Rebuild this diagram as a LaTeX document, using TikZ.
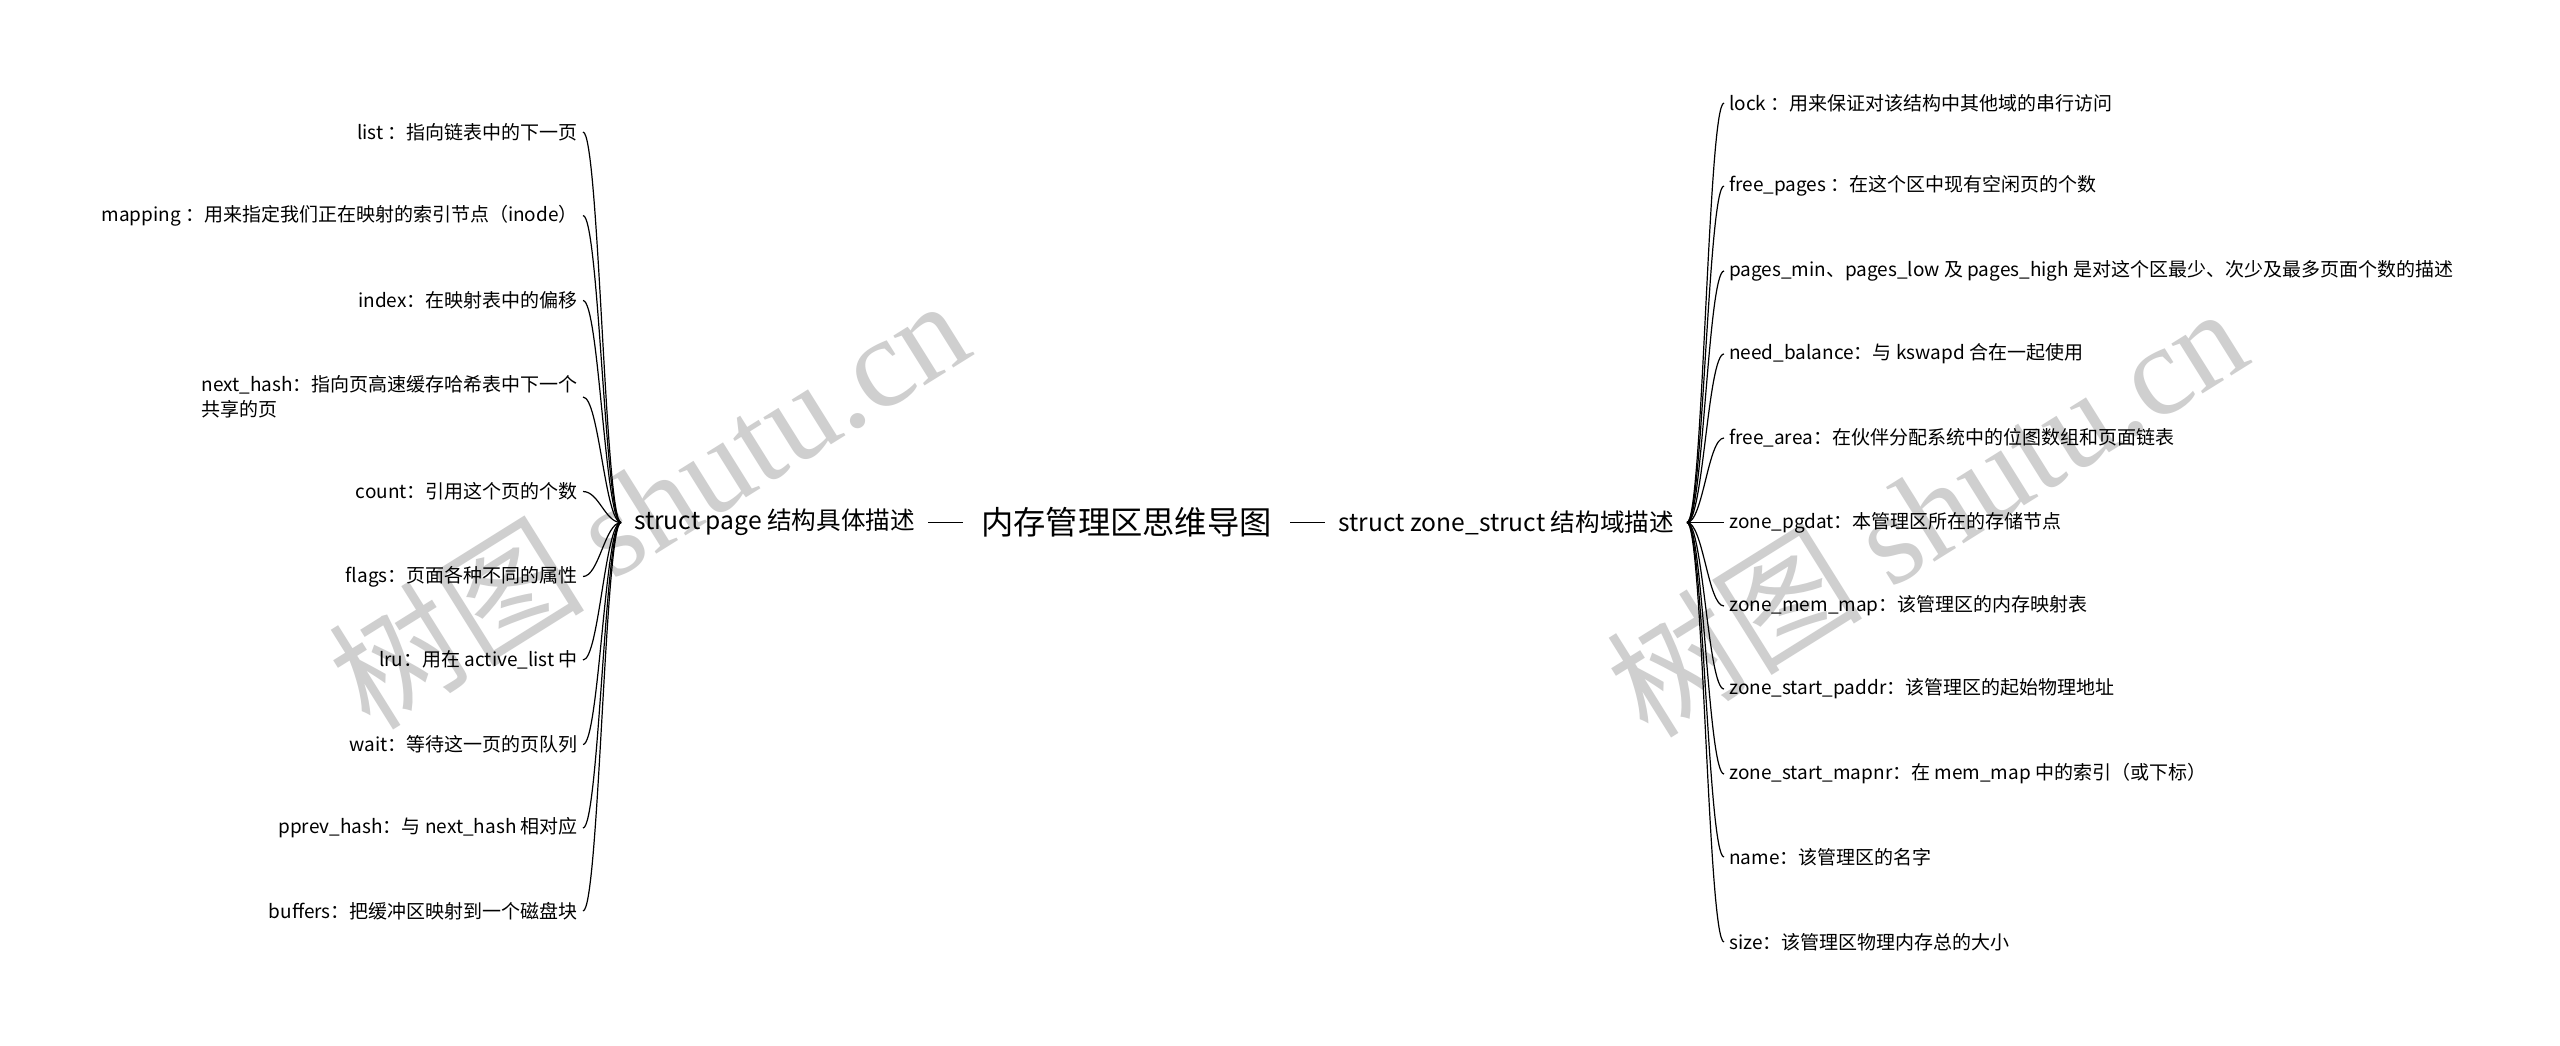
\documentclass[tikz,border=0pt]{standalone}
\usepackage{fontspec}
\setmainfont{Noto Sans CJK SC}
\newfontfamily\wmfont{Liberation Serif}

\tikzset{
	leaf/.style={inner xsep=5pt,inner ysep=2pt,font=\fontsize{19}{24.5}\selectfont},
	branch/.style={inner xsep=13pt,font=\fontsize{24.6}{28}\selectfont},
	rootnode/.style={inner xsep=18pt,font=\fontsize{32.3}{38}\selectfont},
	twig/.style={line width=1.2pt,to path={.. controls +(16,0) and +(-16,0) .. (\tikztotarget)}},
	stem/.style={line width=1.2pt},
	watermark/.style={text=black!19,font=\fontsize{128}{132}\selectfont,inner sep=0pt}
}

\begin{document}
\begin{tikzpicture}[x=1pt,y=-1pt]
	\useasboundingbox[fill=white] (0,0) rectangle (2560,1045);
	% watermark
	\node[watermark,rotate=32] (wmleft) at (648,502) {树图 {\wmfont shutu.cn}};
	\node[watermark,rotate=32] (wmright) at (1926,510) {树图 {\wmfont shutu.cn}};
	
	\node[rootnode] (root) at (1126.5,522.5) {内存管理区思维导图};
	\node[branch,anchor=west] (page) at (621,522.5) {struct page 结构具体描述};
	\node[branch,anchor=east] (zone) at (1687,522.5) {struct zone\_struct 结构域描述};
	
	% struct page
	\node[leaf,anchor=east] (list) at (583,132) {list ：指向链表中的下一页};
	\node[leaf,anchor=east] (mapping) at (583,215.5) {mapping ：用来指定我们正在映射的索引节点（inode）};
	\node[leaf,anchor=east] (index) at (583,300.5) {index：在映射表中的偏移};
	\node[leaf,anchor=east,align=left] (nexthash) at (583,397) {next\_hash：指向页高速缓存哈希表中下一个\\共享的页};
	\node[leaf,anchor=east] (count) at (583,491.5) {count：引用这个页的个数};
	\node[leaf,anchor=east] (flags) at (583,576.5) {flags：页面各种不同的属性};
	\node[leaf,anchor=east] (lru) at (583,660) {lru：用在 active\_list 中};
	\node[leaf,anchor=east] (wait) at (583,744.5) {wait：等待这一页的页队列};
	\node[leaf,anchor=east] (pprev) at (583,828) {pprev\_hash：与 next\_hash 相对应};
	\node[leaf,anchor=east] (buffers) at (583,911) {buffers：把缓冲区映射到一个磁盘块};
	
	% struct zone_struct
	\node[leaf,anchor=west] (lock) at (1724,103) {lock ：用来保证对该结构中其他域的串行访问};
	\node[leaf,anchor=west] (freepages) at (1724,186) {free\_pages ：在这个区中现有空闲页的个数};
	\node[leaf,anchor=west] (pagesmin) at (1724,271) {pages\_min、pages\_low 及 pages\_high 是对这个区最少、次少及最多页面个数的描述};
	\node[leaf,anchor=west] (needbal) at (1724,354) {need\_balance：与 kswapd 合在一起使用};
	\node[leaf,anchor=west] (freearea) at (1724,438) {free\_area：在伙伴分配系统中的位图数组和页面链表};
	\node[leaf,anchor=west] (pgdat) at (1724,522.5) {zone\_pgdat：本管理区所在的存储节点};
	\node[leaf,anchor=west] (memmap) at (1724,606) {zone\_mem\_map：该管理区的内存映射表};
	\node[leaf,anchor=west] (paddr) at (1724,689) {zone\_start\_paddr：该管理区的起始物理地址};
	\node[leaf,anchor=west] (mapnr) at (1724,774) {zone\_start\_mapnr：在 mem\_map 中的索引（或下标）};
	\node[leaf,anchor=west] (name) at (1724,857) {name：该管理区的名字};
	\node[leaf,anchor=west] (size) at (1724,942) {size：该管理区物理内存总的大小};
	
	\draw[stem] (page.east) -- (root.west)
	(root.east) -- (zone.west);
	
	\path[twig] (list.east) edge (page.west)
	(mapping.east) edge (page.west)
	(index.east) edge (page.west)
	(nexthash.east) edge (page.west)
	(count.east) edge (page.west)
	(flags.east) edge (page.west)
	(lru.east) edge (page.west)
	(wait.east) edge (page.west)
	(pprev.east) edge (page.west)
	(buffers.east) edge (page.west);
	
	\path[twig] (zone.east) edge (lock.west)
	(zone.east) edge (freepages.west)
	(zone.east) edge (pagesmin.west)
	(zone.east) edge (needbal.west)
	(zone.east) edge (freearea.west)
	(zone.east) edge (pgdat.west)
	(zone.east) edge (memmap.west)
	(zone.east) edge (paddr.west)
	(zone.east) edge (mapnr.west)
	(zone.east) edge (name.west)
	(zone.east) edge (size.west);
\end{tikzpicture}
\end{document}
